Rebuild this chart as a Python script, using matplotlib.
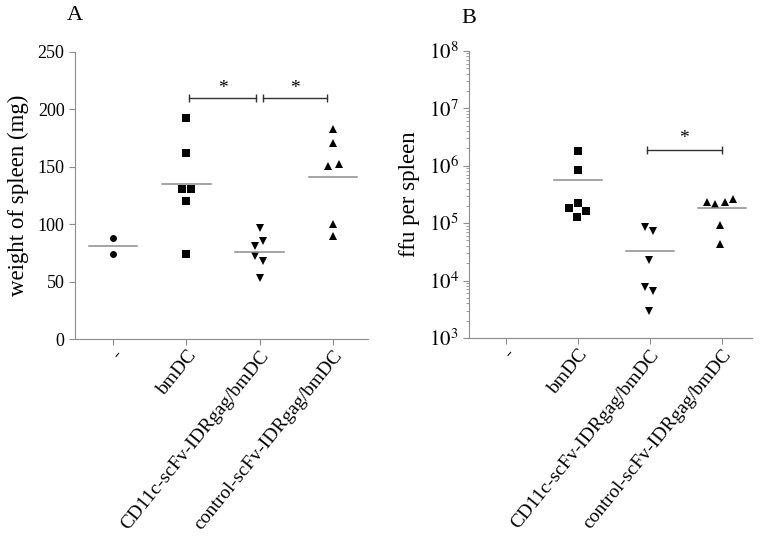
import numpy as np
import matplotlib
matplotlib.use("Agg")
import matplotlib.pyplot as plt
from matplotlib.ticker import LogLocator, NullFormatter, FixedLocator

plt.rcParams['font.family'] = ['Liberation Serif', 'DejaVu Serif']
plt.rcParams['mathtext.fontset'] = 'stix'

groups = ["-", "bmDC", "CD11c-scFv-IDRgag/bmDC", "control-scFv-IDRgag/bmDC"]
markers = ['o', 's', 'v', '^']

# panel A: spleen weight (mg)
weight_none = [87.7, 73.7]
weight_bmdc = [192.5, 162, 130.7, 130.7, 120, 73.7]
weight_cd11c = [96.5, 85, 80.7, 72, 68.4, 53.5]
weight_ctrl = [182.5, 171, 151, 152, 100, 90]
weight_jit = [[0, 0], [0, 0, -0.06, 0.06, 0, 0],
              [0, 0.05, -0.06, -0.06, 0.05, 0], [0, 0, -0.07, 0.08, 0, 0]]

# panel B: ffu per spleen
ffu_none = []
ffu_bmdc = [1.83e6, 8.3e5, 2.25e5, 1.82e5, 1.65e5, 1.3e5]
ffu_cd11c = [8.5e4, 7.2e4, 2.26e4, 7.6e3, 6.7e3, 3.0e3]
ffu_ctrl = [2.37e5, 2.14e5, 2.37e5, 2.6e5, 9.3e4, 4.4e4]
ffu_jit = [[], [0, 0, 0, -0.125, 0.11, -0.01],
           [-0.07, 0.05, -0.01, -0.07, 0.05, -0.01], [-0.2, -0.09, 0.04, 0.16, -0.02, -0.02]]

grey = '#8c8c8c'

fig = plt.figure(figsize=(7.63, 5.40), dpi=100)
axA = fig.add_axes([0.0983, 0.372, 0.384, 0.532])
axB = fig.add_axes([0.6147, 0.374, 0.371, 0.532])


def dotplot(ax, data, jit, mean_fn):
    for i, (vals, dx) in enumerate(zip(data, jit)):
        if len(vals) == 0:
            continue
        xs = i + np.array(dx)
        ax.plot(xs, vals, linestyle='none', marker=markers[i], color='black',
                markersize=5.5 if markers[i] != 'o' else 5, markeredgewidth=0)
        m = mean_fn(vals)
        ax.plot([i - 0.33, i + 0.33], [m, m], color=grey, lw=1.1)


def style(ax):
    for s in ['top', 'right']:
        ax.spines[s].set_visible(False)
    for s in ['left', 'bottom']:
        ax.spines[s].set_color(grey)
    ax.tick_params(axis='both', which='both', color=grey, direction='out')
    ax.tick_params(axis='y', labelsize=13, length=4)
    ax.tick_params(axis='x', labelsize=14, length=4, pad=2)
    ax.set_xticks(range(len(groups)))
    ax.set_xticklabels(groups, rotation=51, ha='right', rotation_mode='anchor')


def sig(ax, x0, x1, y, ytext):
    ax.plot([x0, x1], [y, y], color='#333333', lw=1)
    ax.plot([x0, x1], [y, y], linestyle='none', marker='|', markersize=6,
            color='#333333', markeredgewidth=1)
    ax.text((x0 + x1) / 2, ytext, '*', ha='center', va='center', fontsize=14)


# A
dotplot(axA, [weight_none, weight_bmdc, weight_cd11c, weight_ctrl], weight_jit, np.mean)
axA.set_xlim(-0.52, 3.48)
axA.set_ylim(0, 250)
axA.set_yticks([0, 50, 100, 150, 200, 250])
style(axA)
axA.set_ylabel('weight of spleen (mg)', fontsize=16.5, labelpad=6)
sig(axA, 1.04, 1.95, 209.6, 218)
sig(axA, 2.04, 2.92, 209.6, 218)
fig.text(0.088, 0.988, 'A', fontsize=16, va='top')

# B
dotplot(axB, [ffu_none, ffu_bmdc, ffu_cd11c, ffu_ctrl], ffu_jit, np.mean)
axB.set_yscale('log')
axB.set_xlim(-0.51, 3.42)
axB.set_ylim(1e3, 1e8)
axB.yaxis.set_major_locator(FixedLocator([1e3, 1e4, 1e5, 1e6, 1e7, 1e8]))
axB.yaxis.set_minor_locator(LogLocator(base=10, subs=np.arange(2, 10)))
axB.yaxis.set_minor_formatter(NullFormatter())
axB.set_yticklabels([r'$10^{%d}$' % k for k in range(3, 9)])
style(axB)
axB.tick_params(axis='y', which='minor', length=2)
axB.tick_params(axis='y', labelsize=15)
axB.set_ylabel('ffu per spleen', fontsize=16.5, labelpad=6)
sig(axB, 1.96, 3.0, 1.88e6, 3.0e6)
fig.text(0.605, 0.983, 'B', fontsize=16, va='top')

fig.savefig('out.png', dpi=100)
